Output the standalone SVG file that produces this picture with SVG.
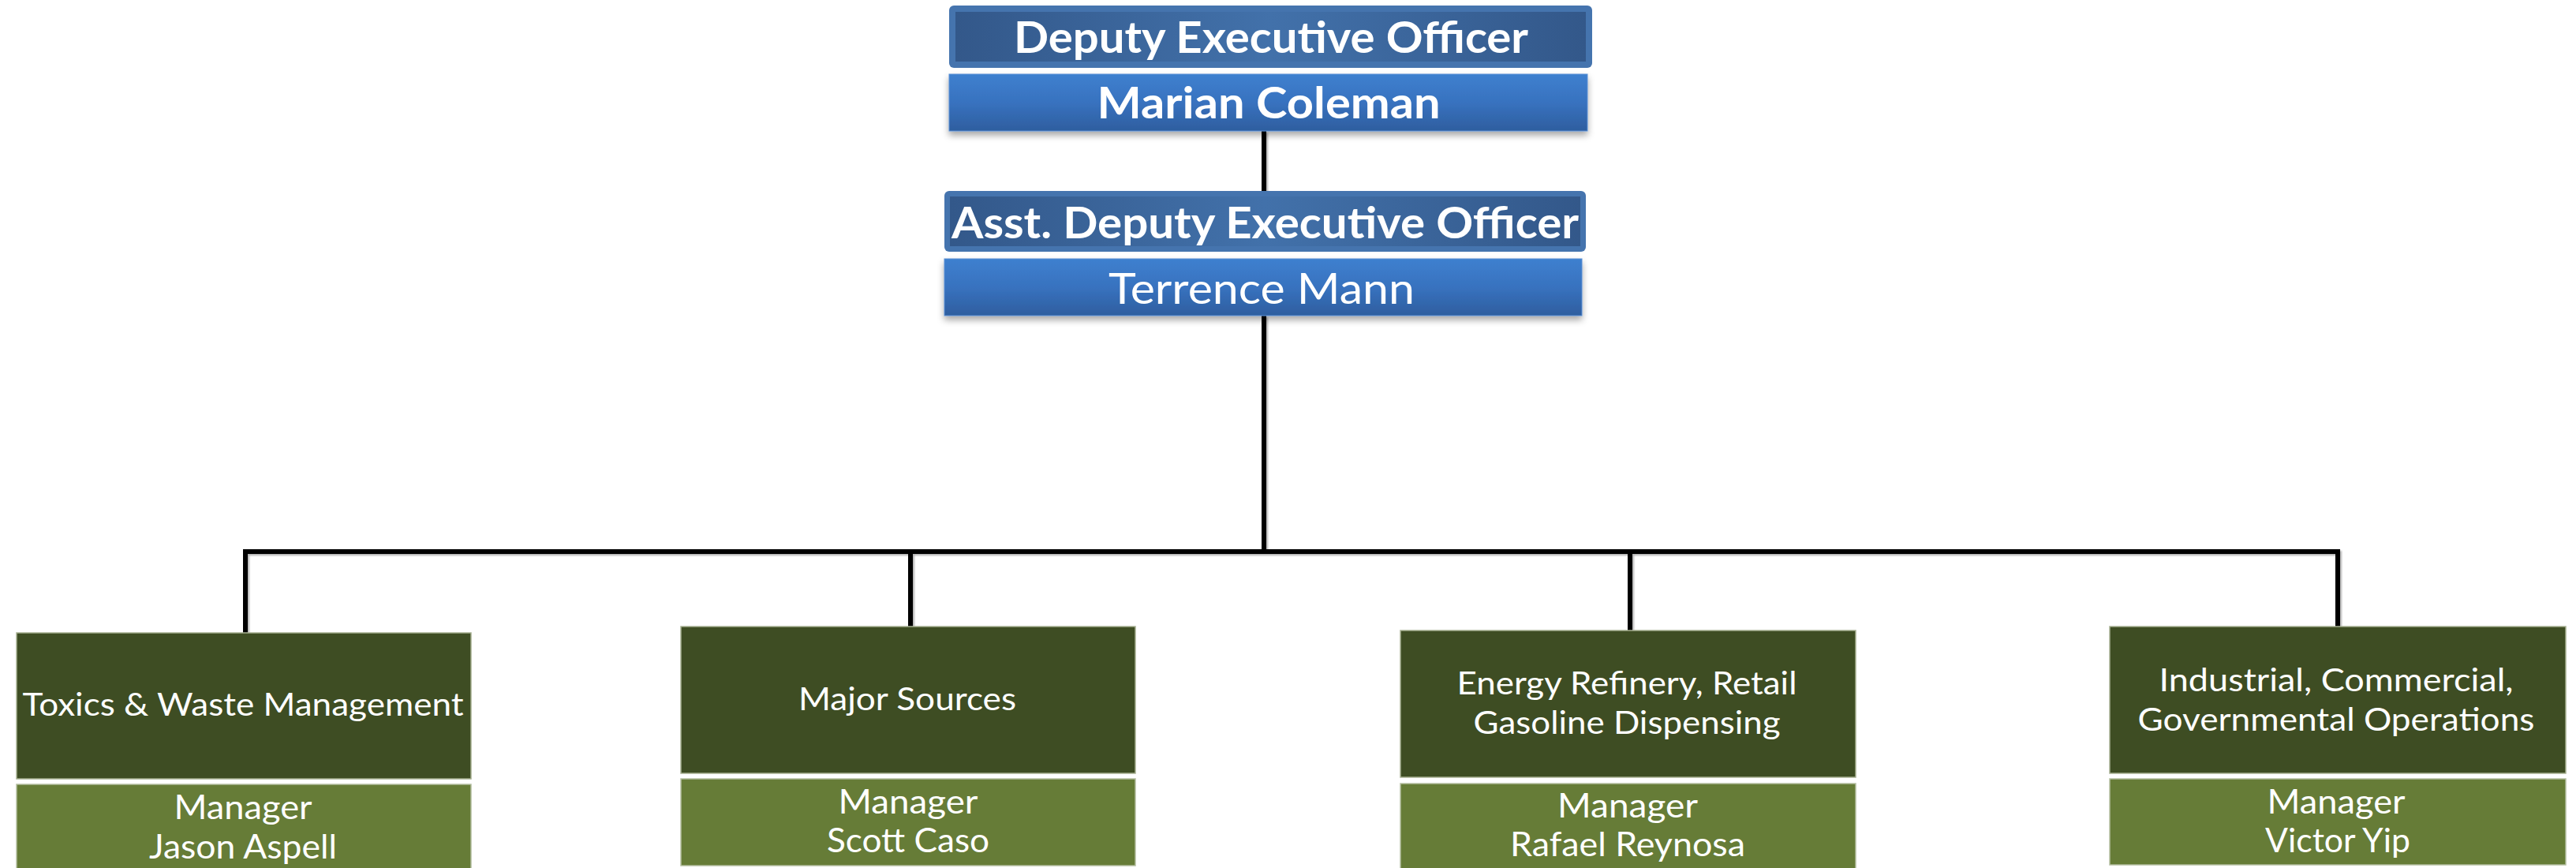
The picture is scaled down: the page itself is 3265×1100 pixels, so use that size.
<svg xmlns="http://www.w3.org/2000/svg" width="3265" height="1100" viewBox="0 0 3265 1100">
  <defs>
    <linearGradient id="hdrInner" x1="0" y1="0" x2="1" y2="0">
      <stop offset="0" stop-color="#33588A"/>
      <stop offset="0.5" stop-color="#4271AA"/>
      <stop offset="1" stop-color="#33588A"/>
    </linearGradient>
    <linearGradient id="nameFill" x1="0" y1="0" x2="0" y2="1">
      <stop offset="0" stop-color="#3E80CF"/>
      <stop offset="0.5" stop-color="#3872BF"/>
      <stop offset="1" stop-color="#2E5E9F"/>
    </linearGradient>
    <filter id="boxShadow" x="-5%" y="-20%" width="110%" height="150%">
      <feDropShadow dx="0" dy="5" stdDeviation="4" flood-color="#000" flood-opacity="0.35"/>
    </filter>
    <filter id="lineShadow" x="-5%" y="-5%" width="110%" height="110%">
      <feDropShadow dx="2" dy="2" stdDeviation="0.8" flood-color="#000" flood-opacity="0.3"/>
    </filter>
  </defs>
  <style>
    .hdr-outer { fill: #4574AE; }
    .hdr-inner { fill: url(#hdrInner); }
    .name-box { fill: url(#nameFill); stroke: #5A8FD3; stroke-width: 1; filter: url(#boxShadow); }
    .dept { fill: #3E4D23; stroke: #A7B091; stroke-width: 1.5; }
    .mgr { fill: #667C37; stroke: #B4BEA0; stroke-width: 1.5; }
    .conn { fill: none; stroke: #000; stroke-width: 6; stroke-linejoin: miter; }
    text { fill: #FFFFFF; font-family: Lato, "Open Sans", "Liberation Sans", sans-serif; text-anchor: middle; }
    .t-top { font-size: 55px; font-weight: 700; }
    .t-top-reg { font-size: 55px; font-weight: 400; }
    .t-dept { font-size: 41.5px; }
    .t-mgr { font-size: 43px; }
  </style>

  <g id="connectors" filter="url(#lineShadow)">
    <path class="conn" d="M1602 166 V243"/>
    <path class="conn" d="M1602 400 V699"/>
    <path class="conn" d="M311 802 V699 H2963 V794"/>
    <path class="conn" d="M1154 699 V794"/>
    <path class="conn" d="M2066 699 V799"/>
  </g>

  <g id="deputy-title">
    <rect class="hdr-outer" x="1203" y="7" width="815" height="79" rx="6"/>
    <rect class="hdr-inner" x="1211" y="15" width="799" height="63"/>
    <text class="t-top" x="1611" y="67" textLength="652" lengthAdjust="spacingAndGlyphs">Deputy Executive Officer</text>
  </g>
  <g id="deputy-name">
    <rect class="name-box" x="1203" y="94" width="809" height="72"/>
    <text class="t-top" x="1608" y="150" textLength="435" lengthAdjust="spacingAndGlyphs">Marian Coleman</text>
  </g>

  <g id="asst-title">
    <rect class="hdr-outer" x="1197" y="242" width="813" height="77" rx="6"/>
    <rect class="hdr-inner" x="1204" y="249" width="799" height="63"/>
    <text class="t-top" x="1603.5" y="302" textLength="795" lengthAdjust="spacingAndGlyphs">Asst. Deputy Executive Officer</text>
  </g>
  <g id="asst-name">
    <rect class="name-box" x="1197" y="328" width="808" height="72"/>
    <text class="t-top-reg" x="1599" y="385" textLength="388" lengthAdjust="spacingAndGlyphs">Terrence Mann</text>
  </g>

  <g id="toxics">
    <rect class="dept" x="21" y="802" width="576" height="185"/>
    <text class="t-dept" x="308" y="907" textLength="559" lengthAdjust="spacingAndGlyphs">Toxics &amp; Waste Management</text>
  </g>
  <g id="toxics-manager">
    <rect class="mgr" x="21" y="994" width="576" height="110"/>
    <text class="t-mgr" x="308" y="1038" textLength="175" lengthAdjust="spacingAndGlyphs">Manager</text>
    <text class="t-mgr" x="308" y="1088" textLength="238" lengthAdjust="spacingAndGlyphs">Jason Aspell</text>
  </g>

  <g id="major">
    <rect class="dept" x="863" y="794" width="576" height="186"/>
    <text class="t-dept" x="1150" y="900" textLength="276" lengthAdjust="spacingAndGlyphs">Major Sources</text>
  </g>
  <g id="major-manager">
    <rect class="mgr" x="863" y="987" width="576" height="110"/>
    <text class="t-mgr" x="1151" y="1031" textLength="177" lengthAdjust="spacingAndGlyphs">Manager</text>
    <text class="t-mgr" x="1151" y="1080" textLength="206" lengthAdjust="spacingAndGlyphs">Scott Caso</text>
  </g>

  <g id="energy">
    <rect class="dept" x="1775" y="799" width="577" height="186"/>
    <text class="t-dept" x="2062" y="880" textLength="431" lengthAdjust="spacingAndGlyphs">Energy Refinery, Retail</text>
    <text class="t-dept" x="2062" y="930" textLength="389" lengthAdjust="spacingAndGlyphs">Gasoline Dispensing</text>
  </g>
  <g id="energy-manager">
    <rect class="mgr" x="1775" y="993" width="577" height="111"/>
    <text class="t-mgr" x="2063" y="1036" textLength="178" lengthAdjust="spacingAndGlyphs">Manager</text>
    <text class="t-mgr" x="2063" y="1085" textLength="298" lengthAdjust="spacingAndGlyphs">Rafael Reynosa</text>
  </g>

  <g id="industrial">
    <rect class="dept" x="2674" y="794" width="578" height="186"/>
    <text class="t-dept" x="2961" y="876" textLength="449" lengthAdjust="spacingAndGlyphs">Industrial, Commercial,</text>
    <text class="t-dept" x="2961" y="926" textLength="503" lengthAdjust="spacingAndGlyphs">Governmental Operations</text>
  </g>
  <g id="industrial-manager">
    <rect class="mgr" x="2674" y="987" width="578" height="109"/>
    <text class="t-mgr" x="2961" y="1031" textLength="175" lengthAdjust="spacingAndGlyphs">Manager</text>
    <text class="t-mgr" x="2963" y="1080" textLength="184" lengthAdjust="spacingAndGlyphs">Victor Yip</text>
  </g>
</svg>
